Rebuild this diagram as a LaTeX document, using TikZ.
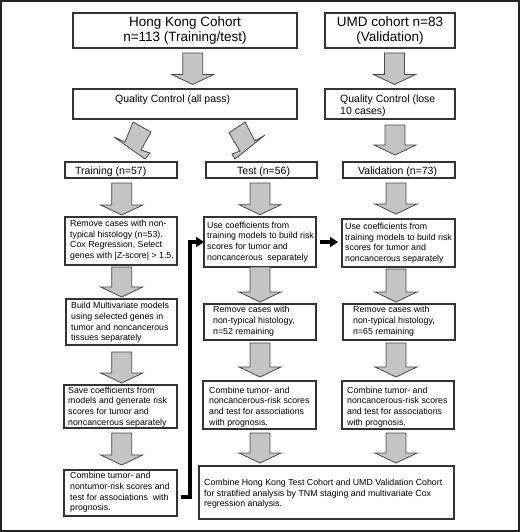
\documentclass[tikz,border=0pt]{standalone}
\usepackage{fontspec}
\setmainfont{Liberation Sans}
\usetikzlibrary{arrows.meta,calc}
\definecolor{bxline}{HTML}{333333}
\definecolor{arrfill}{HTML}{C4C4C4}
\definecolor{arrline}{HTML}{4A4A4A}
\definecolor{frameline}{HTML}{222222}
\tikzset{
  box/.style={draw=bxline, line width=1.1pt, fill=white, inner sep=0pt, outer sep=0pt},
  smalltxt/.style={inner sep=0pt, anchor=north west, align=left,
    font=\fontsize{8.8}{10.7}\selectfont, execute at begin node={\rule{0pt}{7pt}}},
  midtxt/.style={inner sep=0pt, anchor=north west, align=left,
    font=\fontsize{10.5}{12}\selectfont, execute at begin node={\rule{0pt}{8pt}}},
  titletxt/.style={inner sep=0pt, align=center, font=\fontsize{13.5}{15}\selectfont},
  blkarrow/.style={fill=arrfill, draw=arrline, line width=0.8pt, line join=miter},
  thk/.style={draw=black, line width=3.5pt, line join=miter, -{Triangle[length=8pt,width=10pt]}}
}
\newcommand\mybox[5]{\node[box, minimum width={(#4-#2)*1pt}, minimum height={(#5-#3)*1pt}] (#1) at ({(#2+#4)/2},{(#3+#5)/2}) {};}
\newcommand\myarrow[3]{\filldraw[blkarrow] ({#1-10},#2) -- ({#1+10},#2) -- ({#1+10},{#3-10}) -- ({#1+21},{#3-10}) -- (#1,#3) -- ({#1-21},{#3-10}) -- ({#1-10},{#3-10}) -- cycle;}
\begin{document}
\begin{tikzpicture}[x=1pt,y=-1pt]
\useasboundingbox (0,0) rectangle (520,532);
\fill[white] (0,0) rectangle (520,532);
\draw[frameline, line width=2pt] (1,1) rectangle (519,531);

% boxes
\mybox{hk}{73}{13}{297}{48}
\mybox{umd}{325}{13}{455}{48}
\mybox{qchk}{73}{89}{297}{119}
\mybox{qcumd}{325}{89}{455}{119}
\mybox{train}{65}{162}{177}{178}
\mybox{test}{206}{162}{317}{178}
\mybox{val}{343}{162}{455}{178}
\mybox{rmtr}{65}{217}{177}{265}
\mybox{usetest}{204}{217}{316}{267}
\mybox{useval}{342}{219}{455}{267}
\mybox{build}{66}{299}{177}{345}
\mybox{rmtest}{204}{304}{316}{340}
\mybox{rmval}{343}{304}{455}{340}
\mybox{save}{64}{385}{177}{428}
\mybox{combtest}{203}{381}{316}{429}
\mybox{combval}{342}{381}{454}{429}
\mybox{combtr}{64}{470}{177}{516}
\mybox{final}{199}{466}{454}{519}

% texts
\node[titletxt] (hk-t) at (hk.center) {Hong Kong Cohort\\n=113 (Training/test)};
\node[titletxt] (umd-t) at (umd.center) {UMD cohort n=83\\(Validation)};
\node[midtxt] (qchk-t) at (115,94.5) {Quality Control (all pass)};
\node[midtxt] (qcumd-t) at (340,94.5) {Quality Control (lose\\10 cases)};
\node[midtxt] (train-t) at (75,166) {Training (n=57)};
\node[midtxt] (test-t) at (237,166) {Test (n=56)};
\node[midtxt] (val-t) at (358,166) {Validation (n=73)};
\node[smalltxt] (rmtr-t) at (70,220) {Remove cases with non-\\typical histology (n=53).\\Cox Regression, Select\\genes with |Z-score| > 1.5.};
\node[smalltxt] (usetest-t) at (207,221.5) {Use coefficients from\\training models to build risk\\scores for tumor and\\noncancerous\ \ separately};
\node[smalltxt] (useval-t) at (345,222.8) {Use coefficients from\\training models to build risk\\scores for tumor and\\noncancerous separately};
\node[smalltxt] (build-t) at (71,302.2) {Build Multivariate models\\using selected genes in\\tumor and noncancerous\\tissues separately};
\node[smalltxt] (rmtest-t) at (213,306.2) {Remove cases with\\non-typical histology,\\n=52 remaining};
\node[smalltxt] (rmval-t) at (353,306.2) {Remove cases with\\non-typical histology,\\n=65 remaining};
\node[smalltxt] (save-t) at (68,386.5) {Save coefficients from\\models and generate risk\\scores for tumor and\\noncancerous separately};
\node[smalltxt] (combtest-t) at (209,386.5) {Combine tumor- and\\noncancerous-risk scores\\and test for associations\\with prognosis.};
\node[smalltxt] (combval-t) at (347,386.5) {Combine tumor- and\\noncancerous-risk scores\\and test for associations\\with prognosis.};
\node[smalltxt] (combtr-t) at (70,472.2) {Combine tumor- and\\nontumor-risk scores and\\test for associations\ \ with\\prognosis.};
\node[smalltxt] (final-t) at (204,478.8) {Combine Hong Kong Test Cohort and UMD Validation Cohort\\for stratified analysis by TNM staging and multivariate Cox\\regression analysis.};

% block arrows
\myarrow{192.7}{53}{84.5}
\myarrow{394.5}{53}{84.5}
\myarrow{395}{125}{155}
\myarrow{121.7}{183}{215}
\myarrow{260}{183}{214.7}
\myarrow{396}{183}{214}
\myarrow{121.7}{267}{297}
\myarrow{260}{267}{302}
\myarrow{396}{269}{302}
\myarrow{121.7}{352}{383}
\myarrow{260}{343}{377}
\myarrow{396}{343}{377}
\myarrow{121.7}{433}{465}
\myarrow{260}{433}{463}
\myarrow{396}{433}{463}

% diagonal arrows
\filldraw[blkarrow] (133,122) -- (151,132) -- (141,150) -- (150,153) -- (145,159) -- (114,137) -- (125,142) -- cycle;
\filldraw[blkarrow] (245,122) -- (229,133) -- (240,151) -- (232,154) -- (235,159) -- (265,135) -- (255,141) -- cycle;

% black connectors
\coordinate (s) at (181,497);
\draw[thk] (s) -- ++(9,0) |- (usetest.west);
\draw[thk] ($(usetest.east)+(4,0)$) -- ($(usetest.east -| useval.west)+(-4,0)$);
\end{tikzpicture}
\end{document}
